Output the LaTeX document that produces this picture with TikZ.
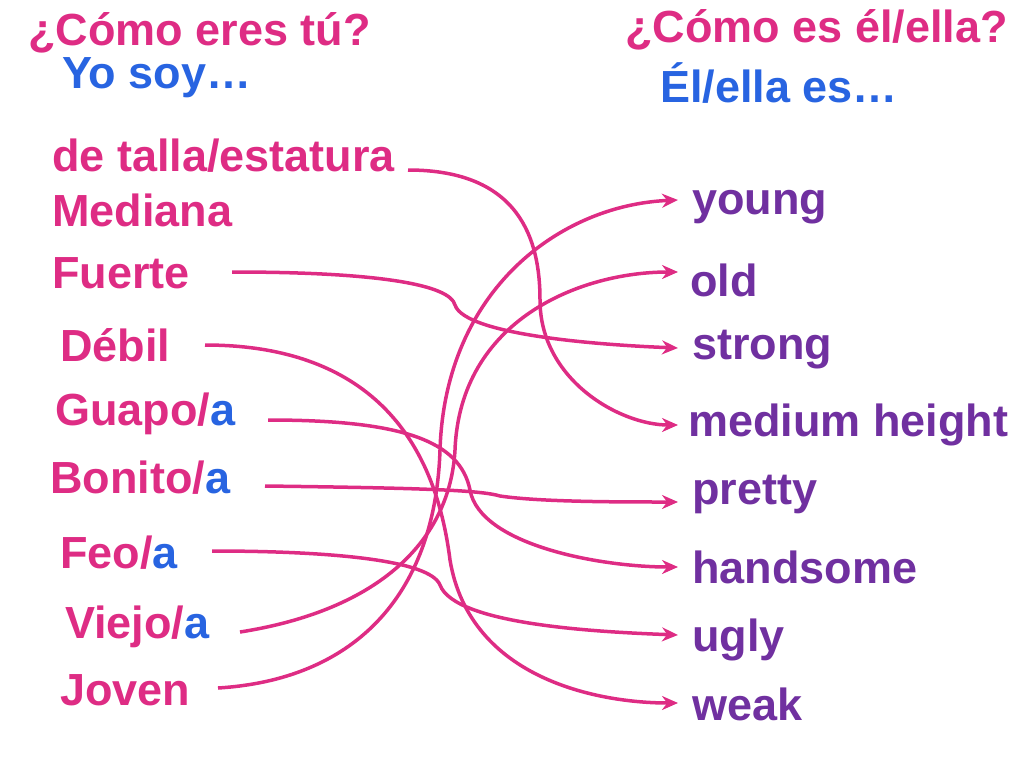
\documentclass[tikz,border=0pt]{standalone}
\usepackage{fontspec}
\setmainfont{Liberation Sans}
\usetikzlibrary{arrows.meta}
\definecolor{pk}{RGB}{222,44,132}
\definecolor{bl}{RGB}{40,100,225}
\definecolor{pu}{RGB}{112,48,160}
\tikzset{
 lt/.style={anchor=west,inner sep=0pt,text=pk,font=\fontsize{45}{50}\selectfont\bfseries},
 rt/.style={anchor=west,inner sep=0pt,text=pu,font=\fontsize{45}{50}\selectfont\bfseries},
 hb/.style={anchor=west,inner sep=0pt,text=bl,font=\fontsize{45}{50}\selectfont\bfseries},
 ln/.style={draw=pk,line width=3.5pt,-{Stealth[length=16pt,width=14pt]}}
}
\newcommand{\ba}{\textcolor{bl}{a}}
\begin{document}
\begin{tikzpicture}[x=1pt,y=-1pt]
\useasboundingbox (0,0) rectangle (1024,768);
\node[lt] (h1) at (28,33) {¿Cómo eres tú?};
\node[hb] (h2) at (62,78) {Yo soy…};
\node[lt] (h3) at (625,30) {¿Cómo es él/ella?};
\node[hb] (h4) at (660,83) {Él/ella es…};
\node[lt] (l0) at (52,156) {de talla/estatura};
\node[lt] (l0b) at (52,210) {Mediana};
\node[lt] (l1) at (52,273) {Fuerte};
\node[lt] (l2) at (60,345) {Débil};
\node[lt] (l3) at (55,414) {Guapo/\ba};
\node[lt] (l4) at (50,478) {Bonito/\ba};
\node[lt] (l5) at (60,553) {Feo/\ba};
\node[lt] (l6) at (65,627) {Viejo/\ba};
\node[lt] (l7) at (60,690) {Joven};
\node[rt] (r1) at (692,207) {young};
\node[rt] (r2) at (690,280) {old};
\node[rt] (r3) at (692,350) {strong};
\node[rt] (r4) at (688,425) {medium height};
\node[rt] (r5) at (692,494) {pretty};
\node[rt] (r6) at (692,567) {handsome};
\node[rt] (r7) at (692,640) {ugly};
\node[rt] (r8) at (692,704) {weak};
\coordinate (a0) at (408,170); \coordinate (b0) at (678,425);
\draw[ln] (a0) .. controls (520,170) and (540,240) .. (540,300) .. controls (540,380) and (620,425) .. (b0);
\coordinate (a1) at (232,272); \coordinate (b1) at (678,348);
\draw[ln] (a1) .. controls (380,272) and (450,285) .. (455,305) .. controls (465,335) and (600,345) .. (b1);
\coordinate (a2) at (205,345); \coordinate (b2) at (678,703);
\draw[ln] (a2) .. controls (330,345) and (430,400) .. (450,560) .. controls (470,680) and (600,703) .. (b2);
\coordinate (a3) at (268,420); \coordinate (b3) at (678,567);
\draw[ln] (a3) .. controls (400,420) and (460,440) .. (470,490) .. controls (480,545) and (600,567) .. (b3);
\coordinate (a4) at (265,486); \coordinate (b4) at (678,502);
\draw[ln] (a4) .. controls (420,488) and (480,490) .. (500,496) .. controls (540,502) and (620,502) .. (b4);
\coordinate (a5) at (212,551); \coordinate (b5) at (678,635);
\draw[ln] (a5) .. controls (330,551) and (430,560) .. (440,585) .. controls (455,625) and (600,632) .. (b5);
\coordinate (a6) at (240,632); \coordinate (b6) at (678,272);
\draw[ln] (a6) .. controls (380,610) and (450,540) .. (455,450) .. controls (460,320) and (580,272) .. (b6);
\coordinate (a7) at (218,688); \coordinate (b7) at (678,200);
\draw[ln] (a7) .. controls (350,680) and (435,600) .. (440,450) .. controls (445,290) and (560,205) .. (b7);
\end{tikzpicture}
\end{document}
